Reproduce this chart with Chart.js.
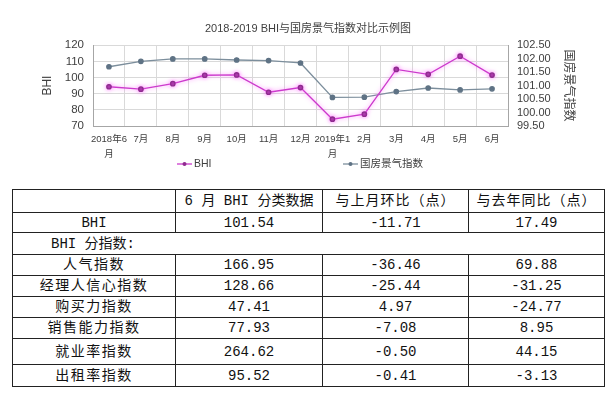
<!DOCTYPE html>
<html lang="zh-CN">
<head>
<meta charset="UTF-8">
<title>2018-2019 BHI与国房景气指数对比示例图</title>
<style>
    body {
        margin: 0;
        background: #fff;
        width: 616px;
        height: 399px;
        position: relative;
        overflow: hidden;
    }
    .chart-box {
        position: absolute;
        left: 0;
        top: 0;
        width: 616px;
        height: 182px;
    }
    #dataTable {
        position: absolute;
        left: 12px;
        top: 189px;
        width: 592px;
        border-collapse: collapse;
        table-layout: fixed;
        font-family: "Liberation Mono", "Noto Sans CJK SC", monospace;
        font-size: 14px;
        color: #111;
    }
    #dataTable td {
        border: 1px solid #222;
        padding: 0;
        line-height: 18px;
        text-align: center;
        white-space: nowrap;
    }
    #dataTable td.name {
        letter-spacing: 1.5px;
    }
    #dataTable td.wide {
        letter-spacing: 1px;
    }
    #dataTable td.group {
        text-align: left;
        padding-left: 38px;
    }
</style>
</head>
<body>

<div class="chart-box"><canvas id="chart"></canvas></div>
<table id="dataTable"></table>

<script src="https://cdn.jsdelivr.net/npm/chart.js"></script>
<script>
    // данные графика
    const months = [['2018年6', '月'], '7月', '8月', '9月', '10月', '11月', '12月',
                    ['2019年1', '月'], '2月', '3月', '4月', '5月', '6月'];
    const bhi = [94.3, 92.8, 96.2, 101.4, 101.6, 90.9, 93.8, 74.2, 77.3, 105.0, 102.0, 113.2, 101.5];
    const guofang = [101.70, 101.90, 101.99, 101.99, 101.95, 101.93, 101.84,
                     100.56, 100.57, 100.78, 100.91, 100.84, 100.88];

    // таблица под графиком
    const tableHead = ['', '6 月 BHI 分类数据', '与上月环比（点）', '与去年同比（点）'];
    const tableBhi = ['BHI', '101.54', '-11.71', '17.49'];
    const groupTitle = 'BHI 分指数:';
    const subNames = ['人气指数', '经理人信心指数', '购买力指数', '销售能力指数', '就业率指数', '出租率指数'];
    const subValues = ['166.95', '128.66', '47.41', '77.93', '264.62', '95.52'];
    const subMoM = ['-36.46', '-25.44', '4.97', '-7.08', '-0.50', '-0.41'];
    const subYoY = ['69.88', '-31.25', '-24.77', '8.95', '44.15', '-3.13'];

    const legendX = [177, 343];

    function buildTable() {
        const table = document.getElementById('dataTable');
        const colWidths = [163, 147, 146, 136];
        const rowHeights = [23, 20, 22, 21, 21, 21, 21, 26, 22];
        const cg = document.createElement('colgroup');
        colWidths.forEach(w => {
            const c = document.createElement('col');
            c.style.width = w + 'px';
            cg.appendChild(c);
        });
        table.appendChild(cg);

        let rowNo = 0;
        function newRow() {
            const tr = document.createElement('tr');
            tr.style.height = rowHeights[rowNo++] + 'px';
            table.appendChild(tr);
            return tr;
        }

        function addRow(cells, classes) {
            const tr = newRow();
            cells.forEach((t, i) => {
                const td = document.createElement('td');
                td.textContent = t;
                if (classes[i]) td.className = classes[i];
                tr.appendChild(td);
            });
        }

        addRow(tableHead, ['', '', 'wide', 'wide']);
        addRow(tableBhi, []);
        const tr = newRow();
        const td = document.createElement('td');
        td.colSpan = 4;
        td.className = 'group';
        td.textContent = groupTitle;
        tr.appendChild(td);
        subNames.forEach((name, i) => addRow([name, subValues[i], subMoM[i], subYoY[i]], ['name']));
    }
    buildTable();

    // розовое свечение линии BHI
    const glowPlugin = {
        id: 'glow',
        beforeDatasetDraw(chart, args) {
            if (args.index !== 0) return;
            chart.ctx.save();
            chart.ctx.shadowColor = 'rgba(255, 90, 255, 0.7)';
            chart.ctx.shadowBlur = 4;
        },
        afterDatasetDraw(chart, args) {
            if (args.index !== 0) return;
            chart.ctx.restore();
        }
    };

    // легенда как в Excel: линия с маркером
    const legendPlugin = {
        id: 'excelLegend',
        afterDraw(chart) {
            const ctx = chart.ctx;
            const y = 164;
            chart.data.datasets.forEach((ds, i) => {
                const x = legendX[i];
                ctx.save();
                ctx.strokeStyle = ds.borderColor;
                ctx.lineWidth = 1.3;
                ctx.beginPath();
                ctx.moveTo(x, y);
                ctx.lineTo(x + 15, y);
                ctx.stroke();
                ctx.fillStyle = ds.pointBackgroundColor;
                ctx.beginPath();
                ctx.arc(x + 7.5, y, 2, 0, Math.PI * 2);
                ctx.fill();
                ctx.fillStyle = '#404040';
                ctx.font = '10.5px "Liberation Sans", "Noto Sans CJK SC"';
                ctx.textBaseline = 'middle';
                ctx.fillText(ds.label, x + 17, y);
                ctx.restore();
            });
        }
    };

    Chart.defaults.font.family = '"Liberation Sans", "Noto Sans CJK SC", sans-serif';
    Chart.defaults.color = '#404040';

    const gridColor = '#d9d9d9';
    const edgeColor = '#a6a6a6';

    new Chart(document.getElementById('chart'), {
        type: 'line',
        data: {
            labels: months,
            datasets: [{
                label: 'BHI',
                data: bhi,
                yAxisID: 'y',
                borderColor: '#cc3acc',
                borderWidth: 1.3,
                pointBackgroundColor: '#8f2b8f',
                pointBorderColor: '#8f2b8f',
                pointRadius: 2.2,
                tension: 0
            }, {
                label: '国房景气指数',
                data: guofang,
                yAxisID: 'y1',
                borderColor: '#7c8e9c',
                borderWidth: 1.3,
                pointBackgroundColor: '#5f7385',
                pointBorderColor: '#5f7385',
                pointRadius: 2.2,
                tension: 0
            }]
        },
        options: {
            responsive: true,
            maintainAspectRatio: false,
            animation: false,
            layout: { padding: { top: 0, bottom: 22, left: 0, right: 0 } },
            plugins: {
                legend: { display: false },
                tooltip: { enabled: false },
                title: {
                    display: true,
                    text: '2018-2019 BHI与国房景气指数对比示例图',
                    color: '#404040',
                    font: { size: 11, weight: 'normal' },
                    padding: { top: 22, bottom: 10 }
                }
            },
            scales: {
                x: {
                    offset: true,
                    grid: { offset: true, color: gridColor, drawTicks: false },
                    border: { color: edgeColor },
                    ticks: {
                        autoSkip: false,
                        maxRotation: 0,
                        padding: 6,
                        font: { size: 9.5, lineHeight: 1.6 },
                        color: '#404040'
                    },
                    afterFit(scale) { scale.height = 34; }
                },
                y: {
                    position: 'left',
                    min: 70,
                    max: 120,
                    grid: { color: gridColor, drawTicks: false },
                    border: { color: edgeColor },
                    ticks: { stepSize: 10, autoSkip: false, padding: 9, font: { size: 11.5 } },
                    title: {
                        display: true,
                        text: 'BHI',
                        font: { size: 12 },
                        padding: { top: 40, bottom: 0 }
                    },
                    afterFit(scale) { scale.width = 93; }
                },
                y1: {
                    position: 'right',
                    min: 99.5,
                    max: 102.5,
                    grid: { drawOnChartArea: false, drawTicks: false },
                    border: { color: edgeColor },
                    ticks: {
                        stepSize: 0.5,
                        autoSkip: false,
                        padding: 9,
                        font: { size: 11 },
                        callback: v => v.toFixed(2)
                    },
                    title: {
                        display: true,
                        text: '国房景气指数',
                        font: { size: 12 },
                        padding: { top: 40, bottom: 0 }
                    },
                    afterFit(scale) { scale.width = 108; }
                }
            }
        },
        plugins: [glowPlugin, legendPlugin]
    });
</script>

</body>
</html>
